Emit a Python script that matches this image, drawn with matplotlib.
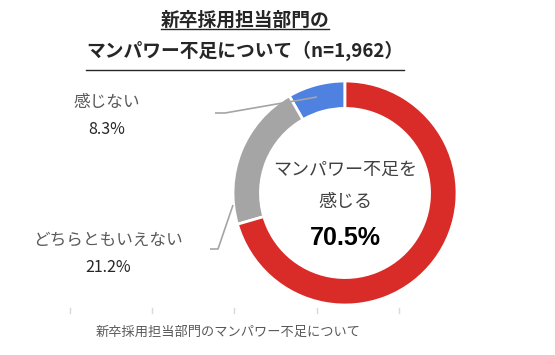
import matplotlib
matplotlib.use("Agg")
import matplotlib.pyplot as plt
from matplotlib.lines import Line2D

plt.rcParams['font.family'] = ['Noto Sans CJK JP', 'DejaVu Sans']

labels = ["感じない", "どちらともいえない", "マンパワー不足を\n感じる"]
values = [8.3, 21.2, 70.5]
colors = ["#4F81E0", "#A5A5A5", "#D92B27"]
title_lines = ["新卒採用担当部門の", "マンパワー不足について（n=1,962）"]
caption = "新卒採用担当部門のマンパワー不足について"

W, H = 555, 355
fig = plt.figure(figsize=(W / 100, H / 100), dpi=100)
ax = fig.add_axes([0, 0, 1, 1])
ax.set_xlim(0, W)
ax.set_ylim(0, H)
ax.set_aspect('equal')
ax.axis('off')

cx, cy, R = 345, H - 193, 112
ax.pie(values, colors=colors, startangle=90, counterclock=True,
       center=(cx, cy), radius=R,
       wedgeprops=dict(width=R * 0.245, edgecolor='white', linewidth=2))
ax.set_xlim(0, W)
ax.set_ylim(0, H)

# center text
ax.text(cx, H - 170, "マンパワー不足を", ha='center', va='center', fontsize=13, color='#404040')
ax.text(cx, H - 202, "感じる", ha='center', va='center', fontsize=13, color='#404040')
ax.text(cx, H - 238, f"{values[2]}%", ha='center', va='center', fontsize=18,
        fontweight='bold', color='#000000', family=['Liberation Sans', 'DejaVu Sans'])

# outside labels
ax.text(107, H - 102, labels[0], ha='center', va='center', fontsize=12, color='#595959')
ax.text(107, H - 130, f"{values[0]}%", ha='center', va='center', fontsize=11.5, color='#262626')
ax.text(108, H - 240, labels[1], ha='center', va='center', fontsize=12, color='#595959')
ax.text(108, H - 267, f"{values[1]}%", ha='center', va='center', fontsize=11.5, color='#262626')

# leader lines
ax.plot([215, 225, 317], [H - 113, H - 113, H - 97], color='#A5A5A5', lw=1.2, solid_capstyle='butt')
ax.plot([210, 218, 233], [H - 249, H - 249, H - 205], color='#A5A5A5', lw=1.2, solid_capstyle='butt')

# tick marks
for x in [70, 152, 234, 317, 399]:
    ax.plot([x, x], [H - 308, H - 313], color='#D9D9D9', lw=1)

ax.text(228, H - 332, caption, ha='center', va='center', fontsize=9.5, color='#595959')

# title with underline
t1 = fig.text(245 / W, 1 - 20 / H, title_lines[0], ha='center', va='center', fontsize=13.5,
              fontweight='bold', color='#262626')
t2 = fig.text(245 / W, 1 - 51 / H, title_lines[1], ha='center', va='center', fontsize=13.5,
              fontweight='bold', color='#262626')
fig.canvas.draw()
r = fig.canvas.get_renderer()
for t, uy in [(t1, 29), (t2, 70)]:
    bb = t.get_window_extent(r)
    fig.add_artist(Line2D([bb.x0 / W, bb.x1 / W], [1 - uy / H, 1 - uy / H],
                          transform=fig.transFigure, color='#262626', lw=1))

fig.savefig("out.png", dpi=100)
